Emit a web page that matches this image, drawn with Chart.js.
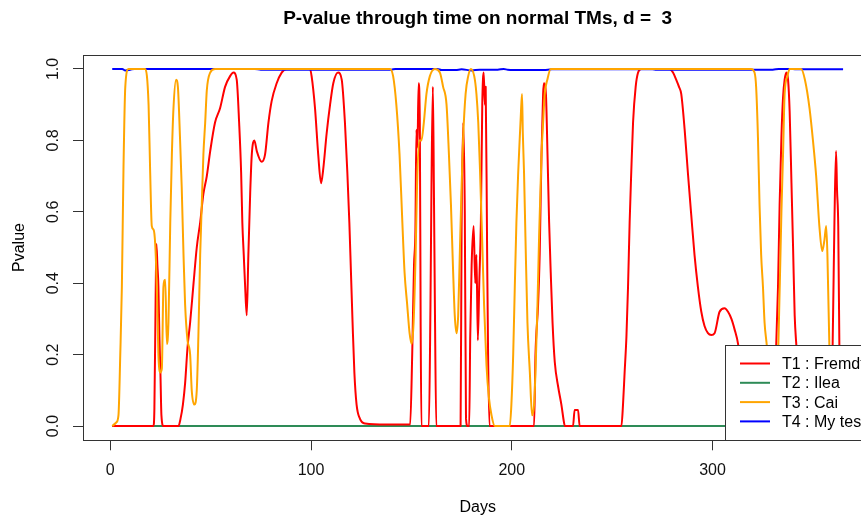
<!DOCTYPE html>
<html>
<head>
<meta charset="utf-8">
<script src="https://cdn.jsdelivr.net/npm/chart.js@4"></script>
<style>
  html, body { margin: 0; padding: 0; overflow: hidden; background: #fff; }
  canvas { display: block; }
</style>
</head>
<body>
<canvas id="pvalueChart" width="900" height="520"></canvas>
<script>
// values, [day, pvalue]
const seriesNames = ["T1 : Fremdt", "T2 : Ilea", "T3 : Cai", "T4 : My test"];
const seriesColors = ["#ff0000", "#2e8b57", "#ffa500", "#0000ff"];
const xTicks = [0, 100, 200, 300];
const yTicks = [0, 0.2, 0.4, 0.6, 0.8, 1.0];

const t1 = [[1,0],[21.5,0],[22,0.05],[22.6,0.35],[23,0.51],[23.5,0.45],[24,0.39],[24.5,0.25],[25,0.15],[25.5,0.03],[26.5,0],
  [34,0],[35,0.02],[36.2,0.06],[37.3,0.12],[38.5,0.22],[39.8,0.29],[41.5,0.4],[43.1,0.5],[44.8,0.57],[46.4,0.65],[48.1,0.7],
  [49.8,0.77],[52.2,0.85],[54.7,0.89],[57.2,0.95],[59.7,0.98],[61.4,0.99],[63,0.97],[64.2,0.85],[65.2,0.71],[65.8,0.57],
  [66.5,0.48],[67.2,0.39],[68,0.31],[68.8,0.48],[69.7,0.65],[70.5,0.76],[71.8,0.8],[73,0.77],[75.4,0.74],[77.1,0.76],
  [78.8,0.85],[80.4,0.91],[82.9,0.96],[85.4,0.99],[87.9,1],[99.5,1],[100.3,0.98],[102,0.89],[103.6,0.76],[105,0.68],
  [106.1,0.72],[107.8,0.82],[109.5,0.9],[111.1,0.96],[113.5,0.99],[115.3,0.97],[116.9,0.85],[118.1,0.71],[119.1,0.57],
  [119.9,0.43],[120.7,0.29],[121.6,0.15],[122.7,0.06],[124.4,0.02],[126.9,0.007],[137.6,0.004],[149.4,0.004],[150.4,0.2],
  [151.3,0.45],[152,0.55],[152.5,0.83],[153,0.78],[153.6,0.96],[154.2,0.85],[154.6,0.3],[155,0],[158.7,0],[159.5,0.34],
  [160,0.67],[160.7,0.95],[161.2,0.67],[161.7,0.34],[162.4,0],[174.5,0],[175,0.55],[175.8,0.85],[176.6,0.6],[177.2,0.02],
  [178,0],[178.8,0],[179.3,0.25],[180,0.45],[181,0.56],[181.8,0.4],[182.4,0.48],[183.1,0.24],[183.8,0.4],[184.6,0.57],
  [185.3,0.9],[186,0.99],[186.6,0.9],[187,0.95],[187.7,0.5],[188.2,0.2],[188.9,0],[211.1,0],[211.8,0.2],[213.1,0.34],
  [213.9,0.48],[214.8,0.76],[215.6,0.93],[216,0.96],[217,0.93],[217.8,0.76],[218.6,0.57],[219.4,0.43],[220.3,0.29],
  [221.4,0.18],[223.1,0.11],[224.7,0.06],[226,0.01],[226.4,0],[230.5,0],[231.3,0.045],[233,0.045],[233.8,0],[254.6,0],
  [255.4,0.06],[256.2,0.15],[257.1,0.25],[257.9,0.39],[258.7,0.57],[259.5,0.71],[260.4,0.85],[261.7,0.95],[262.9,0.99],
  [264.5,1],[278.6,1],[280.3,0.99],[281.9,0.97],[283.3,0.95],[284.4,0.93],[286.1,0.83],[287.7,0.71],[289.4,0.59],
  [291,0.48],[292.7,0.39],[294.4,0.32],[296,0.28],[297.7,0.26],[299.4,0.255],[301,0.26],[303.5,0.32],[306,0.33],
  [307.7,0.32],[309.4,0.3],[311,0.27],[312.7,0.23],[314,0.17],[316,0.08],[318,0.02],[320,0],[330,0],[331,0.1],
  [332.6,0.39],[333.4,0.62],[334.3,0.81],[335.1,0.92],[335.9,0.97],[336.8,0.99],[337.6,0.97],[338.4,0.88],[339.3,0.68],
  [340.1,0.5],[340.9,0.31],[341.8,0.22],[343,0.1],[345,0.02],[347,0],[359,0],[360,0.3],[360.7,0.57],[361.5,0.77],
  [362,0.66],[362.6,0.56],[363.2,0.2],[364,0],[365,0]];

const t2 = [[1,0],[365,0]];

const t3 = [[1,0],[3,0.01],[4.1,0.03],[5,0.2],[5.8,0.39],[6.6,0.72],[7.5,0.95],[9.1,1],[17.4,1],[19.1,0.9],[19.9,0.71],
  [20.7,0.56],[21.6,0.55],[22.4,0.51],[23.2,0.39],[24,0.2],[24.9,0.15],[25.7,0.16],[26.5,0.39],[27.4,0.41],[28.2,0.23],
  [29,0.29],[29.9,0.57],[30.7,0.76],[31.5,0.89],[32.8,0.97],[33.7,0.95],[34.8,0.8],[35.6,0.67],[36.5,0.48],[37.3,0.34],
  [38.5,0.24],[39.8,0.2],[40.6,0.1],[41.9,0.06],[43.1,0.1],[43.9,0.25],[44.8,0.48],[45.6,0.62],[46.4,0.76],[47.3,0.85],
  [48.1,0.94],[49.8,0.99],[52.2,1],[139.3,1],[140.9,0.98],[142.5,0.9],[144.1,0.76],[145.5,0.57],[146.6,0.43],[147.9,0.34],
  [149.1,0.26],[150.1,0.23],[151.1,0.29],[152.1,0.48],[152.8,0.67],[153.8,0.8],[155,0.8],[156.2,0.85],[157.5,0.93],
  [159.2,0.98],[161.7,1],[164.2,0.99],[165.8,0.95],[167.5,0.9],[168.7,0.76],[169.7,0.62],[170.8,0.43],[171.6,0.31],
  [172.5,0.26],[173.3,0.31],[174.1,0.48],[175,0.67],[175.8,0.81],[177,0.93],[178.3,0.98],[179.6,1],[181.3,0.98],
  [182.4,0.93],[183.3,0.85],[184.1,0.73],[185.2,0.53],[186.2,0.34],[187.4,0.17],[188.6,0.08],[189.9,0.03],[191.5,0],
  [199,0],[199.8,0.06],[200.7,0.2],[201.5,0.39],[202.3,0.57],[203.2,0.71],[204,0.81],[204.5,0.87],[205.1,0.93],
  [205.5,0.82],[206.1,0.71],[206.8,0.53],[207.8,0.29],[209,0.15],[210.1,0.03],[211.1,0.06],[211.8,0.15],[212.8,0.34],
  [213.6,0.53],[214.8,0.76],[215.6,0.85],[216.4,0.93],[217.7,0.97],[219.4,1],[319.2,1],[320.9,0.99],[321.7,0.95],
  [322.6,0.81],[323.4,0.62],[324.2,0.48],[325.1,0.39],[325.9,0.29],[327.1,0.22],[328.5,0.1],[330,0.05],[332,0.1],
  [333.5,0.4],[334.3,0.6],[335.1,0.76],[335.9,0.93],[337.3,0.98],[338.4,1],[344.1,1],[346,0.97],[348.3,0.89],[350,0.8],
  [351.6,0.7],[353.2,0.56],[354.6,0.49],[355.7,0.52],[356.6,0.56],[357.2,0.48],[358.2,0.22],[359.5,0.05],[361,0],[365,0]];

const t4 = [[1,1],[6,1],[7.5,0.996],[10,0.998],[12,1],[72,1],[75,0.998],[140,0.998],[142,1],[163,1],[165,0.997],
  [172,0.997],[175,0.999],[180,0.996],[184,0.998],[193,0.998],[196,1],[198,0.998],[205,0.997],[216,0.997],[220,0.999],
  [270,0.999],[272,0.998],[330,0.998],[333,1],[340,1],[342,0.999],[365,0.999]];

const seriesData = [t1, t2, t3, t4];
const drawOrder = [2, 3, 0, 1]; // orange on top, green at the bottom

Chart.defaults.font.family = "'Liberation Sans', Arial, sans-serif";
Chart.defaults.color = "#000";

// R style box round the plot region
const plotBox = {
  id: "plotBox",
  afterDatasetsDraw(chart) {
    const { ctx, chartArea: a } = chart;
    const top = Math.round(a.top), bottom = Math.round(a.bottom);
    const left = Math.round(a.left), right = Math.round(a.right);
    ctx.save();
    ctx.strokeStyle = "#333";
    ctx.lineWidth = 1;
    ctx.strokeRect(left + 0.5, top + 0.5, right - left, bottom - top);
    ctx.restore();
  }
};

// legend in the bottom right corner, like legend("bottomright")
const cornerLegend = {
  id: "cornerLegend",
  afterDraw(chart) {
    const { ctx, chartArea: a } = chart;
    const bottom = Math.round(a.bottom), right = Math.round(a.right);
    const left = 725, top = bottom - 95;
    ctx.save();
    ctx.fillStyle = "#fff";
    ctx.fillRect(left, top, right - left, bottom - top);
    ctx.strokeStyle = "#333";
    ctx.lineWidth = 1;
    ctx.strokeRect(left + 0.5, top + 0.5, right - left, bottom - top);
    ctx.font = "16px 'Liberation Sans', Arial, sans-serif";
    ctx.textBaseline = "middle";
    seriesNames.forEach((name, i) => {
      const y = top + 18.5 + i * 19.3;
      ctx.strokeStyle = seriesColors[i];
      ctx.lineWidth = 2;
      ctx.beginPath();
      ctx.moveTo(740, y);
      ctx.lineTo(770, y);
      ctx.stroke();
      ctx.fillStyle = "#000";
      ctx.fillText(name, 782, y + 1);
    });
    ctx.restore();
  }
};

new Chart(document.getElementById("pvalueChart"), {
  type: "line",
  data: {
    datasets: seriesData.map((pts, i) => ({
      label: seriesNames[i],
      data: pts.map(p => ({ x: p[0], y: p[1] })),
      borderColor: seriesColors[i],
      backgroundColor: seriesColors[i],
      borderWidth: 2,
      pointRadius: 0,
      fill: false,
      cubicInterpolationMode: "monotone",
      borderJoinStyle: "round",
      order: drawOrder[i],
    }))
  },
  options: {
    responsive: false,
    animation: false,
    events: [],
    layout: {
      padding: { left: 0, right: 27.7, top: 0, bottom: 0 }
    },
    scales: {
      x: {
        type: "linear",
        min: -13.56,
        max: 379.56,
        afterFit: (s) => { s.height = 79.7; },
        afterBuildTicks: (s) => { s.ticks = xTicks.map(v => ({ value: v })); },
        ticks: {
          padding: 11,
          font: { size: 16 },
          color: "#111",
        },
        grid: {
          drawOnChartArea: false,
          drawTicks: true,
          tickLength: 10,
          color: "#333",
        },
        border: { display: false },
        title: {
          display: true,
          text: "Days",
          font: { size: 16 },
          padding: { top: 0, bottom: 2.4 },
        },
      },
      y: {
        type: "linear",
        min: -0.04,
        max: 1.04,
        afterFit: (s) => { s.width = 83; },
        afterBuildTicks: (s) => { s.ticks = yTicks.map(v => ({ value: v })); },
        ticks: {
          minRotation: 90,
          maxRotation: 90,
          crossAlign: "center",
          padding: 8,
          font: { size: 16 },
          color: "#111",
          callback: (v) => Number(v).toFixed(1),
        },
        grid: {
          drawOnChartArea: false,
          drawTicks: true,
          tickLength: 10,
          color: "#333",
        },
        border: { display: false },
        title: {
          display: true,
          text: "Pvalue",
          font: { size: 16 },
          padding: { top: 10, bottom: 0 },
        },
      },
    },
    plugins: {
      legend: { display: false },
      tooltip: { enabled: false },
      title: {
        display: true,
        fullSize: false,
        text: "P-value through time on normal TMs, d =  3",
        font: { size: 19, weight: "bold" },
        color: "#000",
        padding: { top: 7.4, bottom: 24.5 },
      },
    },
  },
  plugins: [plotBox, cornerLegend],
});
</script>
</body>
</html>
